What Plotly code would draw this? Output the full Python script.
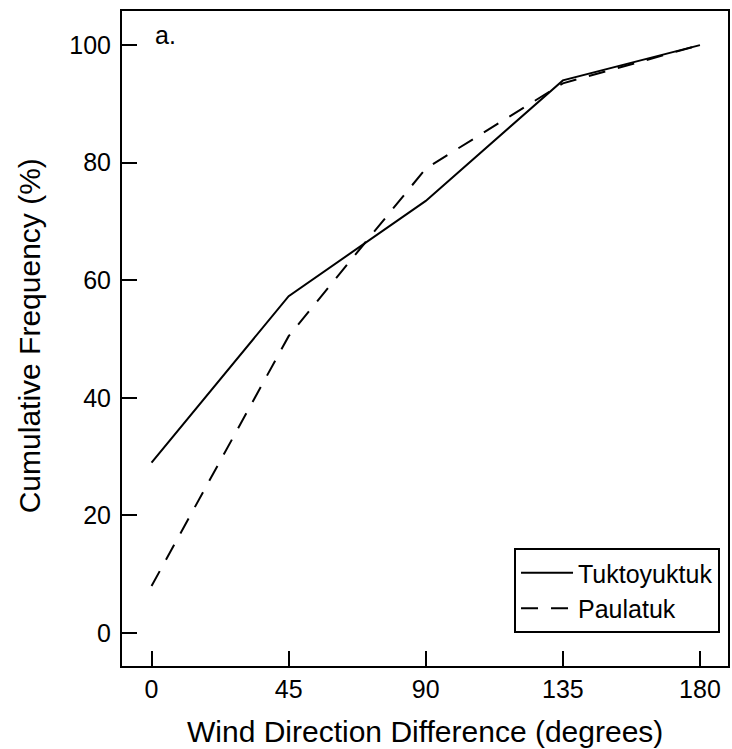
import plotly.graph_objects as go

# Wind direction difference bins (degrees)
direction_diff = [0, 45, 90, 135, 180]
# Cumulative frequency (%) for each station
tuktoyuktuk = [29.0, 57.3, 73.5, 94.0, 100.0]
paulatuk = [8.0, 50.5, 79.0, 93.5, 100.0]

x_ticks = [0, 45, 90, 135, 180]
y_ticks = [0, 20, 40, 60, 80, 100]

FONT = "Liberation Sans, Arial, sans-serif"

# Plot area in pixels
L, R, T, B = 122, 730, 11, 666
W, H = 732, 749
PW, PH = R - L, B - T


def px_to_paper_x(px):
    return (px - L) / PW


def px_to_paper_y(py):
    return (B - py) / PH


fig = go.Figure()
fig.add_trace(go.Scatter(
    x=direction_diff, y=tuktoyuktuk, mode="lines", name="Tuktoyuktuk",
    line=dict(color="black", width=2),
))
fig.add_trace(go.Scatter(
    x=direction_diff, y=paulatuk, mode="lines", name="Paulatuk",
    line=dict(color="black", width=2, dash="17px,13px"),
))

axis_common = dict(
    showline=True, linecolor="black", linewidth=2, mirror=True,
    ticks="inside", ticklen=15, tickwidth=2, tickcolor="black",
    showgrid=False, zeroline=False,
    tickfont=dict(family=FONT, size=25, color="black"),
)

fig.update_xaxes(range=[-9.7, 189.2], tickvals=x_ticks, **axis_common)
fig.update_yaxes(range=[-5.6, 105.8], tickvals=y_ticks,
                 ticklabelstandoff=4, **axis_common)

# Axis titles
fig.add_annotation(
    x=px_to_paper_x(426), y=px_to_paper_y(731), xref="paper", yref="paper",
    text="Wind Direction Difference (degrees)", showarrow=False,
    xanchor="center", yanchor="middle",
    font=dict(family=FONT, size=30, color="black"),
)
fig.add_annotation(
    x=px_to_paper_x(29), y=px_to_paper_y(336), xref="paper", yref="paper",
    text="Cumulative Frequency (%)", showarrow=False, textangle=-90,
    xanchor="center", yanchor="middle",
    font=dict(family=FONT, size=30, color="black"),
)

# Panel label
fig.add_annotation(
    x=px_to_paper_x(153), y=px_to_paper_y(35), xref="paper", yref="paper",
    text="a.", showarrow=False, xanchor="left", yanchor="middle",
    font=dict(family=FONT, size=25, color="black"),
)

fig.update_layout(
    width=W, height=H,
    margin=dict(l=L, r=W - R, t=T, b=H - B),
    plot_bgcolor="white", paper_bgcolor="white",
    showlegend=True,
    legend=dict(
        x=px_to_paper_x(722), y=px_to_paper_y(633),
        xanchor="right", yanchor="bottom",
        bordercolor="black", borderwidth=2, bgcolor="white",
        font=dict(family=FONT, size=25, color="black"),
        itemwidth=52, tracegroupgap=0,
    ),
)

fig.write_html("out.html")
